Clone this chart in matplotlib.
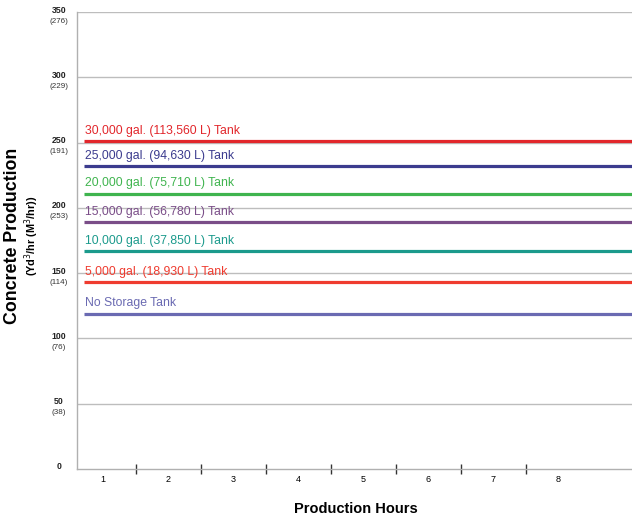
import matplotlib.pyplot as plt
import numpy as np

plt.rcParams['font.family'] = ['Liberation Sans', 'DejaVu Sans']

# y ticks: production in yd3/hr with metric value below
y_ticks = [0, 50, 100, 150, 200, 250, 300, 350]
y_metric = ['', '(38)', '(76)', '(114)', '(253)', '(191)', '(229)', '(276)']
hours = [1, 2, 3, 4, 5, 6, 7, 8]

tank_labels = ['30,000 gal. (113,560 L) Tank', '25,000 gal. (94,630 L) Tank',
               '20,000 gal. (75,710 L) Tank', '15,000 gal. (56,780 L) Tank',
               '10,000 gal. (37,850 L) Tank', '5,000 gal. (18,930 L) Tank',
               'No Storage Tank']
tank_values = [251, 232, 211, 189, 167, 143, 119]
tank_colors = ['#e2262b', '#3b3b8e', '#3fb44e', '#7a4d88', '#1b9a8c', '#ef3b2f', '#6a6ab2']

x_lo, x_hi = 0.6, 9.13
line_start = 0.71

fig = plt.figure(figsize=(6.32, 5.18), dpi=100)
ax = fig.add_axes([0.122, 0.0946, 0.878, 0.882])
ax.set_xlim(x_lo, x_hi)
ax.set_ylim(0, 350)

for y in y_ticks[1:]:
    ax.axhline(y, color='#bdbdbd', lw=1.0, zorder=1)

for lab, v, c in zip(tank_labels, tank_values, tank_colors):
    ax.hlines(v, line_start, x_hi, color=c, lw=2.3, zorder=3)
    ax.annotate(lab, (line_start, v), xytext=(0.5, 3), textcoords='offset points',
                color=c, fontsize=8.8, ha='left', va='bottom')

for s in ['top', 'right']:
    ax.spines[s].set_visible(False)
for s in ['left', 'bottom']:
    ax.spines[s].set_color('#b0b0b0')
    ax.spines[s].set_linewidth(1.0)

ax.set_yticks(y_ticks)
ax.set_yticklabels([])
ax.tick_params(axis='y', length=0)
for y, m in zip(y_ticks, y_metric):
    ax.annotate(str(y), (0, y), xycoords=('axes fraction', 'data'), xytext=(-13, 1.5),
                textcoords='offset points', ha='center', va='center',
                fontsize=6.3, fontweight='bold', color='#222222')
    if m:
        ax.annotate(m, (0, y), xycoords=('axes fraction', 'data'), xytext=(-13, -6.5),
                    textcoords='offset points', ha='center', va='center',
                    fontsize=5.8, color='#333333')

ax.set_xticks([h + 0.5 for h in hours[:-1]])
ax.set_xticklabels([])
ax.set_xticks(hours, minor=True)
ax.set_xticklabels([str(h) for h in hours], minor=True, fontsize=6.5)
ax.tick_params(axis='x', which='major', direction='inout', length=7, width=1, color='#333333')
ax.tick_params(axis='x', which='minor', length=0, pad=4)

fig.text(0.02, 0.545, 'Concrete Production', rotation=90, ha='center', va='center',
         fontsize=12.8, fontweight='bold')
fig.text(0.05, 0.545, '(Yd$^3$/hr (M$^3$/hr))', rotation=90, ha='center', va='center',
         fontsize=7.8, fontweight='bold')
fig.text(0.563, 0.017, 'Production Hours', ha='center', va='center',
         fontsize=10.5, fontweight='bold')

plt.savefig('out.png', dpi=100)
